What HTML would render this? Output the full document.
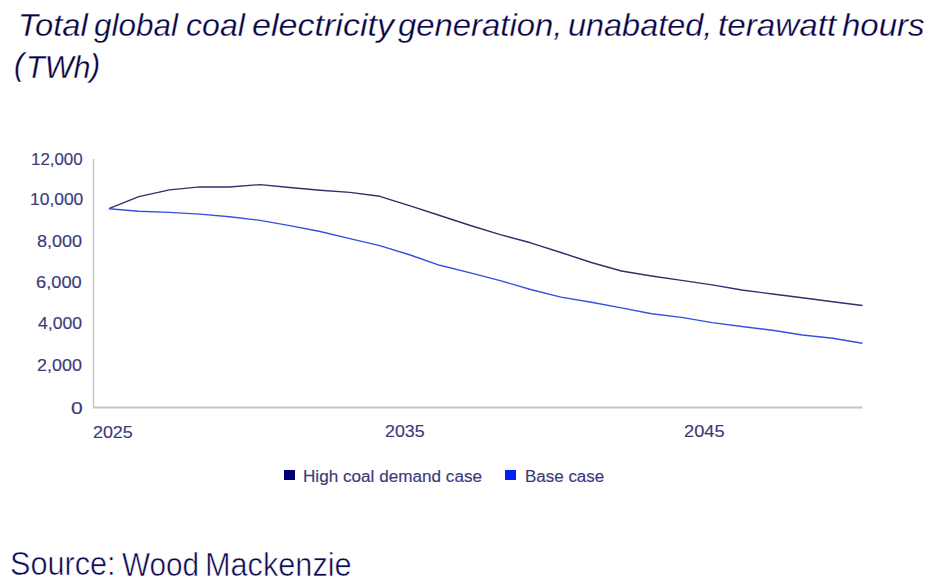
<!DOCTYPE html>
<html><head><meta charset="utf-8">
<style>
html,body{margin:0;padding:0;background:#fff;}
body{width:949px;height:588px;position:relative;overflow:hidden;font-family:"Liberation Sans",sans-serif;}
.w{position:absolute;white-space:nowrap;transform-origin:0 0;}
.src{-webkit-text-stroke:0.35px #fff;}
.sq{position:absolute;width:10px;height:10px;}
</style></head><body>
<svg width="949" height="588" style="position:absolute;left:0;top:0">
<line x1="93.5" y1="159" x2="93.5" y2="407.5" stroke="#c4c4c4" stroke-width="1.5"/>
<line x1="93" y1="407.5" x2="862.5" y2="407.5" stroke="#c4c4c4" stroke-width="2"/>
<polyline fill="none" stroke="#30306a" stroke-width="1.4" stroke-linejoin="round" points="108.9,208.7 138.8,196.6 169.5,189.9 199.8,186.9 229.5,187 260.1,184.6 289.7,187.5 320.1,190.2 349.8,192.4 379.7,196.3 410.2,205.8 439.8,215.5 470.4,225.5 500.2,234.6 530.6,242.8 560.9,252.5 591.3,262.5 621.4,271 651.6,276 681.6,280.4 712.1,284.9 741.8,290 772.5,294 802.3,297.7 832.8,301.8 862.4,305.5"/>
<polyline fill="none" stroke="#3550e0" stroke-width="1.4" stroke-linejoin="round" points="108.9,208.7 138.5,211.3 169.5,212.4 200,214.1 229.5,216.7 260.1,220.4 289.7,225.6 320.1,231.5 349.8,238.6 379.7,245.6 410.2,255 439.8,265.3 470.4,272.9 500.2,280.6 530.6,289.5 560.9,297.1 591.3,302.2 621.4,307.9 651.6,313.8 681.6,317.4 712.1,322.6 741.8,326.5 772.5,330.2 802.3,335 832.8,338.2 862.4,343.3"/>
</svg>

<span class="w" style="left:17.53px;top:5.10px;font:italic 32px/40px 'Liberation Sans';-webkit-text-stroke:0.3px #fff;color:#070345;transform:scaleX(1.0231)">Total</span>
<span class="w" style="left:93.72px;top:5.10px;font:italic 32px/40px 'Liberation Sans';-webkit-text-stroke:0.3px #fff;color:#070345;transform:scaleX(0.9824)">global</span>
<span class="w" style="left:186.00px;top:5.10px;font:italic 32px/40px 'Liberation Sans';-webkit-text-stroke:0.3px #fff;color:#070345;transform:scaleX(1.0034)">coal</span>
<span class="w" style="left:251.53px;top:5.10px;font:italic 32px/40px 'Liberation Sans';-webkit-text-stroke:0.3px #fff;color:#070345;transform:scaleX(1.0654)">electricity</span>
<span class="w" style="left:398.27px;top:5.10px;font:italic 32px/40px 'Liberation Sans';-webkit-text-stroke:0.3px #fff;color:#070345;transform:scaleX(1.0271)">generation,</span>
<span class="w" style="left:567.87px;top:5.10px;font:italic 32px/40px 'Liberation Sans';-webkit-text-stroke:0.3px #fff;color:#070345;transform:scaleX(1.0132)">unabated,</span>
<span class="w" style="left:718.12px;top:5.10px;font:italic 32px/40px 'Liberation Sans';-webkit-text-stroke:0.3px #fff;color:#070345;transform:scaleX(1.0381)">terawatt</span>
<span class="w" style="left:841.97px;top:5.10px;font:italic 32px/40px 'Liberation Sans';-webkit-text-stroke:0.3px #fff;color:#070345;transform:scaleX(1.0321)">hours</span>
<span class="w" style="left:14.40px;top:44.40px;font:italic 32px/40px 'Liberation Sans';-webkit-text-stroke:0.3px #fff;color:#070345;transform:scaleX(0.9500)">(</span>
<span class="w" style="left:25.54px;top:47.10px;font:italic 32px/40px 'Liberation Sans';-webkit-text-stroke:0.3px #fff;color:#070345;transform:scaleX(0.9540)">TWh</span>
<span class="w" style="left:89.91px;top:44.90px;font:italic 32px/40px 'Liberation Sans';-webkit-text-stroke:0.3px #fff;color:#070345;transform:scaleX(0.9545)">)</span>
<span class="w" style="left:30.94px;top:150.10px;font:16px/20px 'Liberation Sans';-webkit-text-stroke:0.15px #3b3a7c;color:#3b3a7c;transform:scaleX(1.0553)">12,000</span>
<span class="w" style="left:29.61px;top:190.40px;font:16px/20px 'Liberation Sans';-webkit-text-stroke:0.15px #3b3a7c;color:#3b3a7c;transform:scaleX(1.0894)">10,000</span>
<span class="w" style="left:36.97px;top:232.10px;font:16px/20px 'Liberation Sans';-webkit-text-stroke:0.15px #3b3a7c;color:#3b3a7c;transform:scaleX(1.1256)">8,000</span>
<span class="w" style="left:36.36px;top:273.40px;font:16px/20px 'Liberation Sans';-webkit-text-stroke:0.15px #3b3a7c;color:#3b3a7c;transform:scaleX(1.1410)">6,000</span>
<span class="w" style="left:38.10px;top:314.40px;font:16px/20px 'Liberation Sans';-webkit-text-stroke:0.15px #3b3a7c;color:#3b3a7c;transform:scaleX(1.0975)">4,000</span>
<span class="w" style="left:37.18px;top:355.50px;font:16px/20px 'Liberation Sans';-webkit-text-stroke:0.15px #3b3a7c;color:#3b3a7c;transform:scaleX(1.1205)">2,000</span>
<span class="w" style="left:71.29px;top:398.70px;font:16px/20px 'Liberation Sans';-webkit-text-stroke:0.15px #3b3a7c;color:#3b3a7c;transform:scaleX(1.3143)">0</span>
<span class="w" style="left:93.22px;top:421.50px;font:16.5px/20px 'Liberation Sans';-webkit-text-stroke:0.15px #3b3a7c;color:#3b3a7c;transform:scaleX(1.0829)">2025</span>
<span class="w" style="left:385.12px;top:421.20px;font:16.5px/20px 'Liberation Sans';-webkit-text-stroke:0.15px #3b3a7c;color:#3b3a7c;transform:scaleX(1.0800)">2035</span>
<span class="w" style="left:684.19px;top:421.20px;font:16.5px/20px 'Liberation Sans';-webkit-text-stroke:0.15px #3b3a7c;color:#3b3a7c;transform:scaleX(1.1057)">2045</span>
<span class="w" style="left:302.63px;top:467.20px;font:16px/20px 'Liberation Sans';-webkit-text-stroke:0.15px #3b3a7c;color:#3b3a7c;transform:scaleX(1.0705)">High coal demand case</span>
<span class="w" style="left:524.64px;top:467.20px;font:16px/20px 'Liberation Sans';-webkit-text-stroke:0.15px #3b3a7c;color:#3b3a7c;transform:scaleX(1.0603)">Base case</span>
<span class="w" style="left:9.71px;top:544.30px;font:32.5px/40px 'Liberation Sans';-webkit-text-stroke:0.55px #fff;color:#0c0852;transform:scaleX(0.9430)">Source:</span>
<span class="w" style="left:122.39px;top:544.80px;font:32.5px/40px 'Liberation Sans';-webkit-text-stroke:0.55px #fff;color:#0c0852;transform:scaleX(0.9136)">Wood</span>
<span class="w" style="left:205.37px;top:544.80px;font:32.5px/40px 'Liberation Sans';-webkit-text-stroke:0.55px #fff;color:#0c0852;transform:scaleX(0.9437)">Mackenzie</span>
<div class="sq" style="left:284.2px;top:469.7px;width:10.5px;height:10.5px;background:#020070"></div>
<div class="sq" style="left:505.4px;top:469.7px;width:10.5px;height:10.5px;background:#0020f6"></div>
</body></html>
